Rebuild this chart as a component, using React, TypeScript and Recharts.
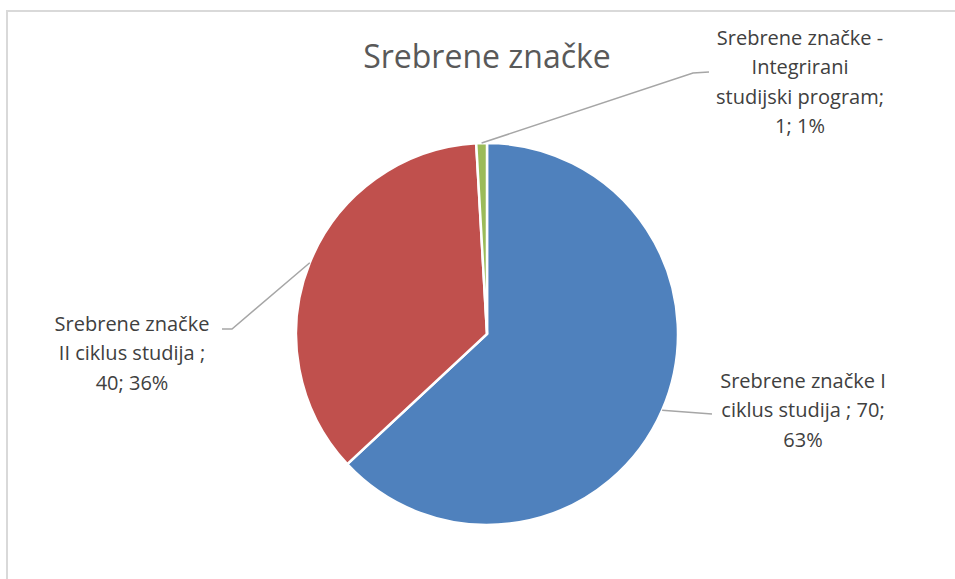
import { PieChart, Pie, Cell } from 'recharts';

const categories = [
  'Srebrene značke I ciklus studija ',
  'Srebrene značke II ciklus studija ',
  'Srebrene značke - Integrirani studijski program',
];
const values = [70, 40, 1];
const percents = ['63%', '36%', '1%'];
const labelLines = [
  ['Srebrene značke I', 'ciklus studija ; 70;', '63%'],
  ['Srebrene značke', 'II ciklus studija ;', '40; 36%'],
  ['Srebrene značke -', 'Integrirani', 'studijski program;', '1; 1%'],
];
const colors = ['#4f81bd', '#c0504d', '#9bbb59'];

const data = categories.map((name, i) => ({ name, value: values[i], pct: percents[i] }));

// leader line elbow/end and text anchor, offsets from the pie centre
const labelLayout = [
  { elbow: [225, 80], end: [225, 80], text: [316, 46] },
  { elbow: [-255, -5], end: [-265, -5], text: [-355, -11] },
  { elbow: [206, -261], end: [222, -262], text: [313, -297] },
];

const RADIAN = Math.PI / 180;
const FONT = '"Open Sans", "Noto Sans", sans-serif';

function renderLabel(props: any) {
  const { cx, cy, midAngle, outerRadius, index } = props;
  const layout = labelLayout[index];
  const sx = cx + outerRadius * Math.cos(-midAngle * RADIAN);
  const sy = cy + outerRadius * Math.sin(-midAngle * RADIAN);
  const ex = cx + layout.elbow[0];
  const ey = cy + layout.elbow[1];
  const fx = cx + layout.end[0];
  const fy = cy + layout.end[1];
  const tx = cx + layout.text[0];
  const ty = cy + layout.text[1];
  return (
    <g key={`label-${index}`}>
      <polyline
        points={`${sx},${sy} ${ex},${ey} ${fx},${fy}`}
        fill="none"
        stroke="#a6a6a6"
        strokeWidth={1.5}
      />
      <text
        x={tx}
        y={ty}
        textAnchor="middle"
        fill="#404040"
        fontFamily={FONT}
        fontSize={20}
      >
        {labelLines[index].map((line, i) => (
          <tspan key={i} x={tx} y={ty + i * 29.5} dominantBaseline="central">
            {line}
          </tspan>
        ))}
      </text>
    </g>
  );
}

export default function App() {
  return (
    <div
      style={{
        position: 'fixed',
        left: 0,
        top: 0,
        width: 955,
        height: 579,
        background: '#fff',
        overflow: 'hidden',
      }}
    >
      <div
        style={{
          position: 'absolute',
          left: 6,
          top: 10,
          width: 980,
          height: 600,
          border: '2px solid #d9d9d9',
        }}
      />
      <div
        style={{
          position: 'absolute',
          left: 0,
          top: 33,
          width: 974,
          textAlign: 'center',
          fontFamily: FONT,
          fontSize: 32,
          color: '#595959',
          lineHeight: '46px',
        }}
      >
        Srebrene značke
      </div>
      <div style={{ position: 'absolute', left: 0, top: 0 }}>
        <PieChart width={955} height={579} margin={{ top: 0, right: 0, bottom: 0, left: 0 }}>
          <Pie
            data={data}
            dataKey="value"
            nameKey="name"
            cx={487}
            cy={334}
            outerRadius={191}
            startAngle={90}
            endAngle={-270}
            stroke="#ffffff"
            strokeWidth={2.5}
            label={renderLabel}
            labelLine={false}
            isAnimationActive={false}
          >
            {data.map((d, i) => (
              <Cell key={d.name} fill={colors[i]} />
            ))}
          </Pie>
        </PieChart>
      </div>
    </div>
  );
}
